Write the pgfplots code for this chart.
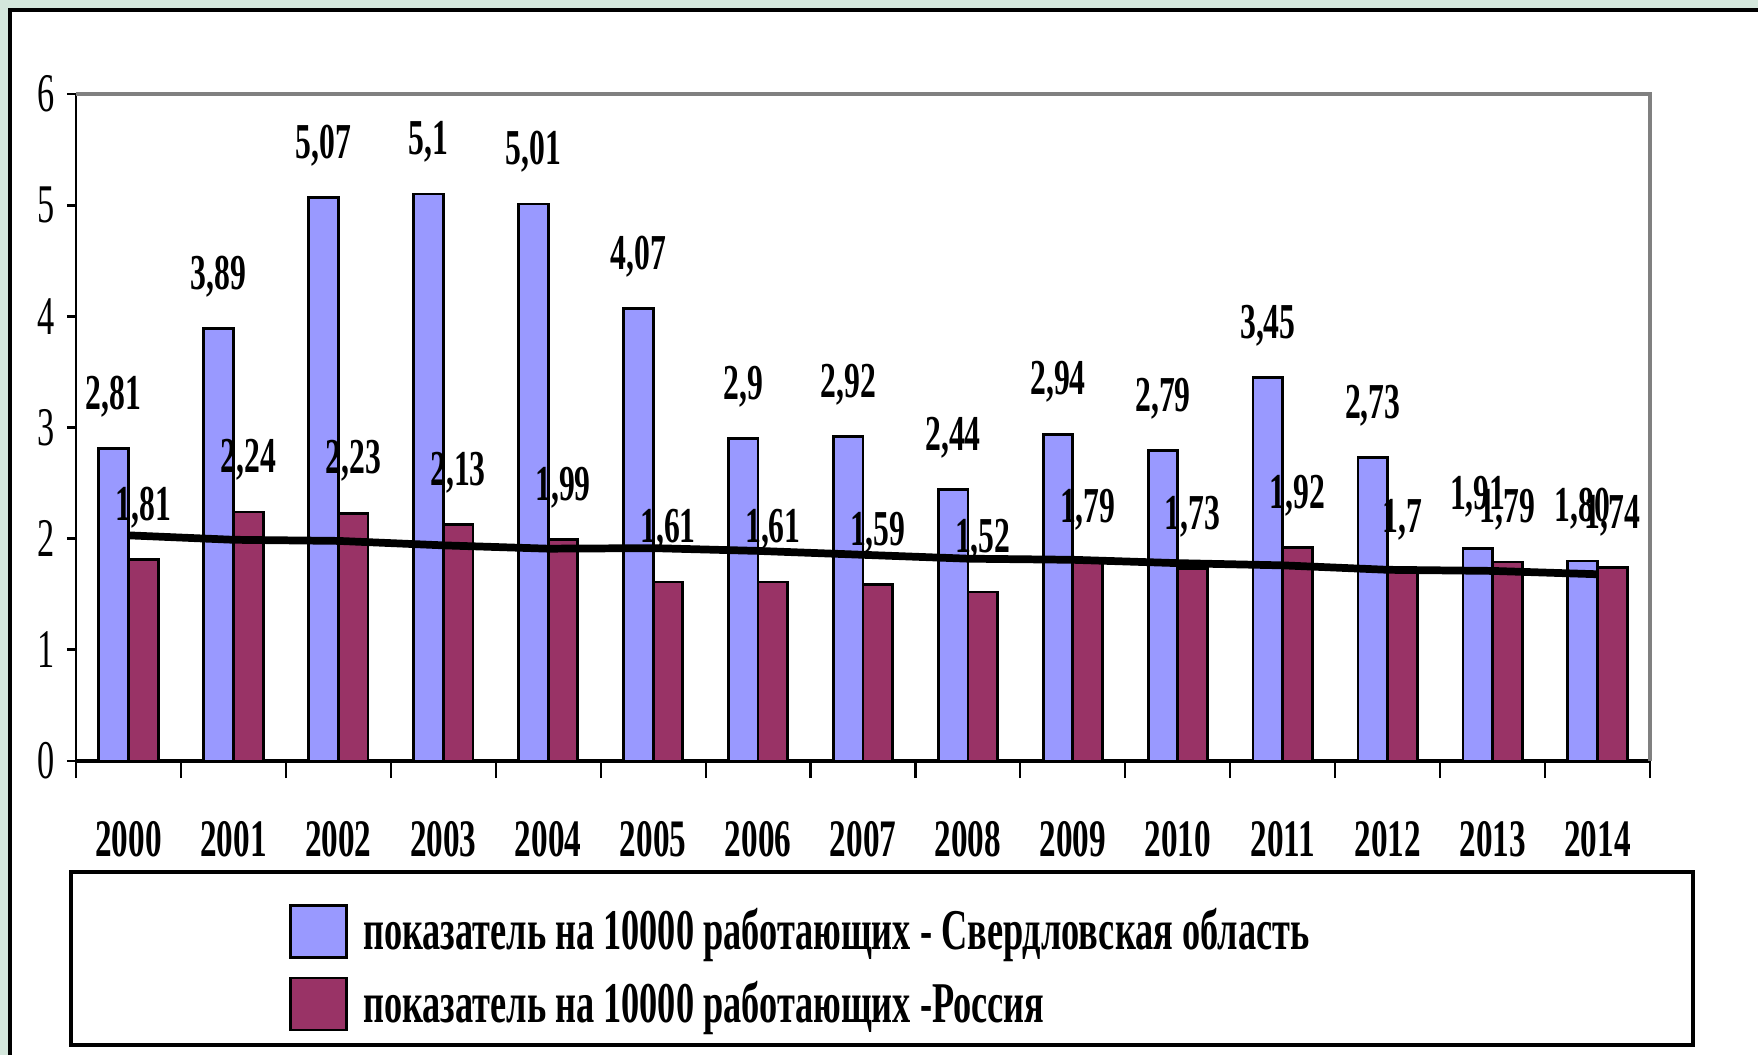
\documentclass[border=0pt]{standalone}
\usepackage{fontspec}
\setmainfont{Liberation Serif}[FakeStretch=0.63]
\usepackage{pgfplots}
\pgfplotsset{compat=1.18}
\usepackage{pgfplotstable}

\definecolor{bgreen}{RGB}{212,231,220}
\definecolor{sverd}{RGB}{153,153,255}
\definecolor{rus}{RGB}{153,51,102}
\definecolor{framegray}{RGB}{128,128,128}

\pgfplotstableread{
x y lab
0 2.81 2,81
1 3.89 3,89
2 5.07 5,07
3 5.10 5,1
4 5.01 5,01
5 4.07 4,07
6 2.90 2,9
7 2.92 2,92
8 2.44 2,44
9 2.94 2,94
10 2.79 2,79
11 3.45 3,45
12 2.73 2,73
13 1.91 1,91
14 1.80 1,80
}\sverdtab

\pgfplotstableread{
x y lab
0 1.81 1,81
1 2.24 2,24
2 2.23 2,23
3 2.13 2,13
4 1.99 1,99
5 1.61 1,61
6 1.61 1,61
7 1.59 1,59
8 1.52 1,52
9 1.79 1,79
10 1.73 1,73
11 1.92 1,92
12 1.70 1,7
13 1.79 1,79
14 1.74 1,74
}\rustab

\pgfplotstableread{
x y
0 2.03
1 1.99
2 1.98
3 1.94
4 1.91
5 1.915
6 1.89
7 1.855
8 1.82
9 1.81
10 1.78
11 1.76
12 1.72
13 1.71
14 1.68
}\trendtab

\begin{document}
\begin{tikzpicture}
\useasboundingbox (0,0) rectangle (17.58,10.55);
\fill[bgreen] (0,0) rectangle (17.58,10.55);
\fill[white] (0.10,0) rectangle (17.58,10.45);
\draw[black, line width=1.1pt] (0.10,0) -- (0.10,10.45) -- (17.58,10.45);
\draw[black, line width=0.9pt, fill=white] (0.71,0.10) rectangle (16.93,1.83);
\begin{axis}[
  at={(0.76cm,2.94cm)}, anchor=south west, scale only axis,
  width=15.74cm, height=6.67cm,
  ybar=0pt, bar width=0.297cm,
  every axis plot post/.append style={
    legend image code/.code={\draw[##1, draw=black, line width=0.8pt] (0cm,-0.26cm) rectangle (0.56cm,0.26cm);}},
  xmin=-0.5, xmax=14.5, ymin=0, ymax=6,
  clip=false,
  ytick={0,1,2,3,4,5,6},
  xtick={0,...,14},
  xticklabels={\textbf{2000},\textbf{2001},\textbf{2002},\textbf{2003},\textbf{2004},\textbf{2005},\textbf{2006},\textbf{2007},\textbf{2008},\textbf{2009},\textbf{2010},\textbf{2011},\textbf{2012},\textbf{2013},\textbf{2014}},
  minor xtick={-0.5,0.5,...,14.5},
  axis x line*=bottom, axis y line*=left,
  x axis line style={line width=1.2pt, black},
  y axis line style={line width=0.6pt, black},
  tick align=outside,
  tick style={black, line width=0.6pt},
  major tick length=0.09cm,
  minor tick length=0.17cm,
  major y tick style={line width=0.8pt},
  major x tick style={draw=none},
  /pgf/number format/assume math mode=true,
  yticklabel style={font=\fontsize{15.5}{15.5}\selectfont},
  xticklabel style={font=\bfseries\fontsize{15}{15}\selectfont, yshift=-0.39cm},
  nodes near coords,
  point meta=explicit symbolic,
  every node near coord/.append style={font=\bfseries\fontsize{14.3}{14.3}\selectfont, inner sep=0pt, yshift=0.30cm, black},
  legend style={draw=none, fill=none, at={(0.128,-0.31)}, anchor=west,
    font=\bfseries\fontsize{16.4}{16.4}\selectfont, row sep=0.12cm,
    nodes={inner xsep=4.5pt}},
  legend cell align=left,
]
\addplot[fill=sverd, draw=black, line width=0.8pt] table[x=x, y=y, meta=lab] {\sverdtab};
\addlegendentry{показатель на 10000 работающих - Свердловская область}
\addplot[fill=rus, draw=black, line width=0.8pt] table[x=x, y=y, meta=lab] {\rustab};
\addlegendentry{показатель на 10000 работающих -Россия}
\addplot[sharp plot, black, line width=2.2pt, forget plot, nodes near coords={}, bar shift=0pt] table[x=x, y=y] {\trendtab};
\draw[framegray, line width=0.9pt] (rel axis cs:0,1) -- (rel axis cs:1,1) -- (rel axis cs:1,0);
\end{axis}
\end{tikzpicture}
\end{document}
